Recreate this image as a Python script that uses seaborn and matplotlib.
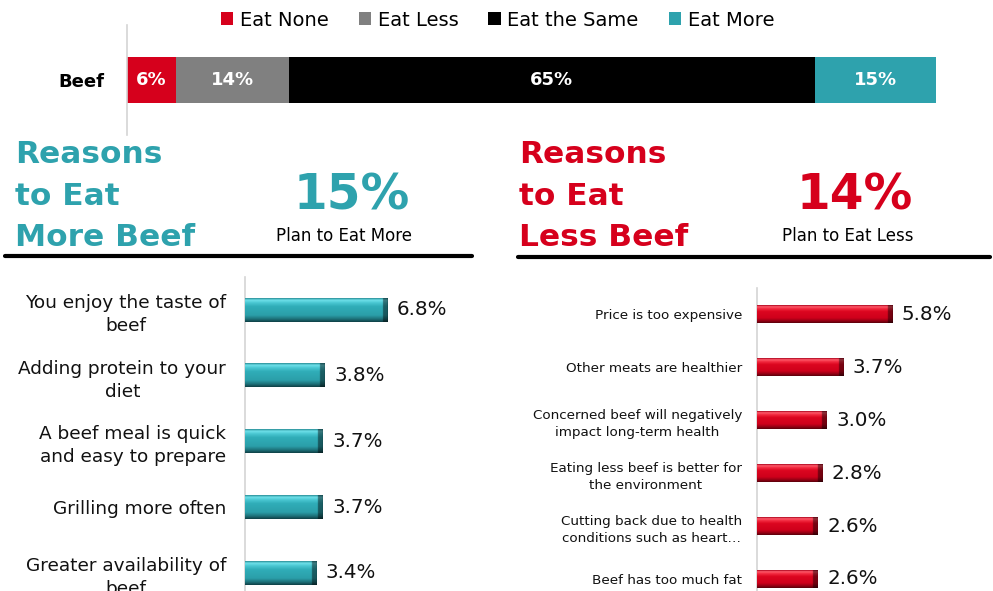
import numpy as np
import pandas as pd
import matplotlib
matplotlib.use("Agg")
import matplotlib.pyplot as plt
from matplotlib.lines import Line2D
from matplotlib.patches import Patch
from matplotlib.colors import to_rgb
import seaborn as sns

# ---- data ----
intent_labels = ["Eat None", "Eat Less", "Eat the Same", "Eat More"]
intent_pct = [6, 14, 65, 15]
intent_colors = ["#D6001C", "#808080", "#000000", "#2EA2AD"]

more_reasons = [
    "You enjoy the taste of\nbeef",
    "Adding protein to your\ndiet",
    "A beef meal is quick\nand easy to prepare",
    "Grilling more often",
    "Greater availability of\nbeef",
]
more_pct = [6.8, 3.8, 3.7, 3.7, 3.4]

less_reasons = [
    "Price is too expensive",
    "Other meats are healthier",
    "Concerned beef will negatively\nimpact long-term health",
    "Eating less beef is better for\nthe environment",
    "Cutting back due to health\nconditions such as heart…",
    "Beef has too much fat",
]
less_pct = [5.8, 3.7, 3.0, 2.8, 2.6, 2.6]

TEAL = "#2EA2AD"
RED = "#D6001C"
INK = "#111111"

sns.set_theme(style="white")
plt.rcParams["font.family"] = ["DejaVu Sans"]
plt.rcParams["text.color"] = INK

W, H = 993, 591
fig = plt.figure(figsize=(W / 100, H / 100), dpi=100)


def px_axes(left, top, right, bottom):
    return fig.add_axes([left / W, 1 - bottom / H, (right - left) / W, (bottom - top) / H])


def style_axes(ax):
    for s in ["top", "right", "bottom"]:
        ax.spines[s].set_visible(False)
    ax.spines["left"].set_color("#d4d4d4")
    ax.spines["left"].set_linewidth(1.2)
    ax.set_xticks([])
    ax.set_xlabel("")
    ax.set_ylabel("")
    ax.tick_params(axis="y", length=0)


def bevel(ax, stops, end_px=5):
    """Paint each bar with a bevelled gradient (light top, dark bottom, dark right end)."""
    pos = np.array([s[0] for s in stops])
    cols = np.array([to_rgb(s[1]) for s in stops])
    ny, nx = 60, 400
    t = np.linspace(0, 1, ny)
    grad = np.stack([np.interp(t, pos, cols[:, k]) for k in range(3)], axis=1)
    ppu = ax.transData.transform((1, 0))[0] - ax.transData.transform((0, 0))[0]
    for p in list(ax.patches):
        x0, y0, w, h = p.get_x(), p.get_y(), p.get_width(), p.get_height()
        img = np.repeat(grad[:, None, :], nx, axis=1)
        k = max(1, int(round(nx * end_px / (w * ppu))))
        shade = np.ones(nx)
        shade[-k:] = 0.55
        img = img * shade[None, :, None]
        img[:, -1, :] *= 0.6
        ax.imshow(img, extent=[x0, x0 + w, y0 + h, y0], origin="upper",
                  aspect="auto", zorder=3, interpolation="bilinear")
        p.set_zorder(2)


# ---- top stacked bar ----
ax0 = px_axes(127, 25, 936, 135)
cum = np.cumsum(intent_pct)
for i in reversed(range(len(intent_pct))):
    sns.barplot(x=[cum[i]], y=["Beef"], color=intent_colors[i], orient="h",
                width=0.82, saturation=1, ax=ax0, linewidth=0)
ax0.set_xlim(0, 100)
ax0.set_ylim(1, -1)
style_axes(ax0)
ax0.tick_params(axis="y", pad=16)
for lbl in ax0.get_yticklabels():
    lbl.set_fontsize(13)
    lbl.set_fontweight("bold")
    lbl.set_color("black")
for i, v in enumerate(intent_pct):
    ax0.text(cum[i] - v / 2, 0, f"{v}%", ha="center", va="center",
             color="white", fontsize=13, fontweight="bold")

handles = [Patch(facecolor=c, edgecolor="none") for c in intent_colors]
leg = fig.legend(handles, intent_labels, loc="center", bbox_to_anchor=(497.5 / W, 1 - 20 / H),
                 ncol=4, frameon=False, fontsize=14, handlelength=0.62, handleheight=0.62,
                 handletextpad=0.35, columnspacing=1.55, borderpad=0)
for t in leg.get_texts():
    t.set_color("black")

# ---- headers ----
def header(x, color, words, big, sub, big_x, sub_x):
    for j, w in enumerate(words):
        fig.text(x / W, 1 - (155 + 41.5 * j) / H, w, ha="left", va="center",
                 fontsize=22.5, fontweight="bold", color=color)
    fig.text(big_x / W, 1 - 195 / H, big, ha="center", va="center",
             fontsize=35, fontweight="bold", color=color)
    fig.text(sub_x / W, 1 - 236 / H, sub, ha="center", va="center",
             fontsize=12, color="black")


header(15, TEAL, ["Reasons", "to Eat", "More Beef"], f"{intent_pct[3]}%",
       "Plan to Eat More", 352, 344)
header(519, RED, ["Reasons", "to Eat", "Less Beef"], f"{intent_pct[1]}%",
       "Plan to Eat Less", 855, 848)

fig.add_artist(Line2D([5 / W, 472 / W], [1 - 256 / H] * 2, color="black", lw=3,
                      transform=fig.transFigure))
fig.add_artist(Line2D([518 / W, 990 / W], [1 - 257 / H] * 2, color="black", lw=3,
                      transform=fig.transFigure))

# ---- reasons to eat more ----
ax1 = px_axes(245, 277, 480, 277 + 5 * 65.75)
df_more = pd.DataFrame({"reason": more_reasons, "pct": more_pct})
sns.barplot(data=df_more, x="pct", y="reason", color=TEAL, orient="h",
            width=0.36, saturation=1, ax=ax1, linewidth=0)
ax1.set_xlim(0, 235 / 20.9)
ax1.set_ylim(4.5, -0.5)
style_axes(ax1)
ax1.tick_params(axis="y", pad=13.5)
for lbl in ax1.get_yticklabels():
    lbl.set_fontsize(13.3)
    lbl.set_color(INK)
    lbl.set_multialignment("center")
    lbl.set_linespacing(1.35)
ax1.bar_label(ax1.containers[0], labels=[f"{v:.1f}%" for v in more_pct],
              padding=7, fontsize=14.3, color=INK)
bevel(ax1, [(0.0, "#2a8f98"), (0.08, "#6fe0ea"), (0.2, "#48c6d1"),
            (0.35, "#30adb8"), (0.72, "#2b9fa9"), (0.88, "#1d7179"), (1.0, "#0f4046")])
ax1.set_xlim(0, 235 / 20.9)
ax1.set_ylim(4.5, -0.5)

# ---- reasons to eat less ----
ax2 = px_axes(757, 287.5, 990, 287.5 + 6 * 53)
df_less = pd.DataFrame({"reason": less_reasons, "pct": less_pct})
sns.barplot(data=df_less, x="pct", y="reason", color=RED, orient="h",
            width=0.33, saturation=1, ax=ax2, linewidth=0)
ax2.set_xlim(0, 233 / 23.3)
ax2.set_ylim(5.5, -0.5)
style_axes(ax2)
ax2.tick_params(axis="y", pad=10.8)
for lbl in ax2.get_yticklabels():
    lbl.set_fontsize(9.7)
    lbl.set_color(INK)
    lbl.set_multialignment("center")
    lbl.set_linespacing(1.45)
ax2.bar_label(ax2.containers[0], labels=[f"{v:.1f}%" for v in less_pct],
              padding=7, fontsize=14.3, color=INK)
bevel(ax2, [(0.0, "#a8001b"), (0.08, "#ff5d6c"), (0.2, "#f2293f"),
            (0.35, "#dc0620"), (0.72, "#cf001b"), (0.88, "#960014"), (1.0, "#5a000b")])
ax2.set_xlim(0, 233 / 23.3)
ax2.set_ylim(5.5, -0.5)

fig.savefig("out.png", dpi=100, facecolor="white")
